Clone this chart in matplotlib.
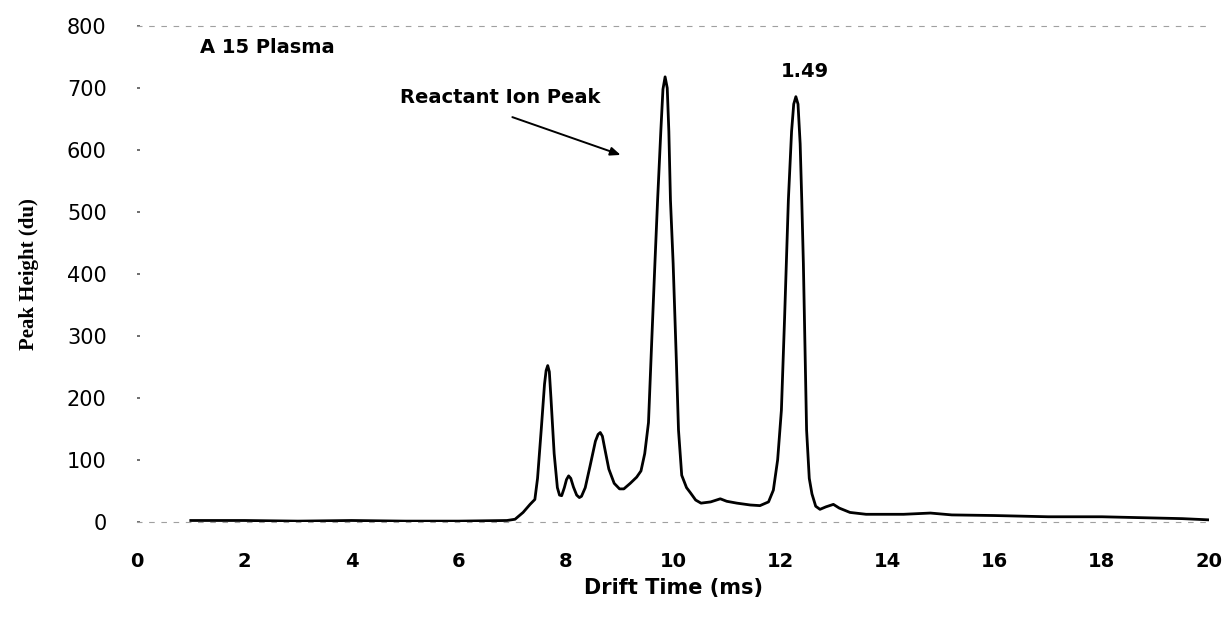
import matplotlib
matplotlib.use("Agg")
import matplotlib.pyplot as plt

# Drift time (ms) and detector response (du) of the A15 plasma spectrum
drift_time = [
    1.0, 2.0, 3.0, 4.0, 5.0, 6.0, 6.9, 7.05, 7.2, 7.33, 7.42, 7.47, 7.54, 7.6,
    7.63, 7.66, 7.69, 7.72, 7.78, 7.84, 7.88, 7.92, 7.97, 8.01, 8.05, 8.09,
    8.14, 8.2, 8.25, 8.29, 8.36, 8.45, 8.55, 8.6, 8.64, 8.68, 8.72, 8.8, 8.9,
    9.0, 9.08, 9.2, 9.32, 9.4, 9.47, 9.54, 9.6, 9.66, 9.71, 9.77, 9.81, 9.85,
    9.89, 9.92, 9.95, 10.0, 10.06, 10.1, 10.16, 10.25, 10.32, 10.42, 10.52,
    10.7, 10.88, 11.0, 11.19, 11.44, 11.62, 11.78, 11.87, 11.95, 12.02, 12.08,
    12.15, 12.21, 12.25, 12.29, 12.33, 12.37, 12.4, 12.43, 12.49, 12.54, 12.59,
    12.66, 12.74, 12.85, 12.99, 13.1, 13.3, 13.6, 13.92, 14.3, 14.8, 15.2,
    16.0, 17.0, 18.0, 18.5, 19.0, 19.5, 20.0,
]
peak_height = [
    2, 2, 1, 2, 1, 1, 2, 4, 15, 28, 36, 70, 150, 222,
    244, 252, 242, 200, 110, 55, 43, 42, 55, 68, 74, 70,
    56, 43, 39, 41, 55, 90, 130, 141, 144, 138, 120, 85, 62,
    53, 53, 62, 72, 82, 110, 160, 290, 417, 519, 630, 698, 718,
    700, 630, 519, 417, 260, 148, 75, 55, 47, 35, 30,
    32, 37, 33, 30, 27, 26, 32, 51, 100, 180, 330,
    519, 630, 674, 686, 674, 610, 519, 417, 148, 70, 45,
    25, 20, 24, 28, 22, 15, 12, 12, 12, 14, 11,
    10, 8, 8, 7, 6, 5, 3,
]

x_ticks = [0, 2, 4, 6, 8, 10, 12, 14, 16, 18, 20]
y_ticks = [0, 100, 200, 300, 400, 500, 600, 700, 800]

sample_label = "A 15 Plasma"
rip_label = "Reactant Ion Peak"
rip_tail = (7.0, 653)
rip_head = (9.02, 592)
peak_label = "1.49"
peak_label_pos = (12.46, 712)

sans = ["DejaVu Sans"]
serif = ["Liberation Serif", "DejaVu Serif"]

fig = plt.figure(figsize=(12.25, 6.2), dpi=100)
ax = fig.add_axes([0.112, 0.1585, 0.875, 0.7995])

ax.plot(drift_time, peak_height, color="black", lw=2.0, solid_joinstyle="round")

ax.set_xlim(0, 20)
ax.set_ylim(0, 800)
ax.set_xticks(x_ticks)
ax.set_yticks(y_ticks)
ax.set_xticklabels([str(v) for v in x_ticks], fontfamily=sans, fontsize=14,
                   fontweight="bold")
ax.set_yticklabels([str(v) for v in y_ticks], fontfamily=sans, fontsize=15)
ax.tick_params(axis="x", length=0, pad=22)
ax.tick_params(axis="y", direction="in", length=2, width=1.2, color="#555555",
               pad=22)

for side in ("left", "right"):
    ax.spines[side].set_visible(False)
for side in ("top", "bottom"):
    ax.spines[side].set_color("#a0a0a0")
    ax.spines[side].set_linewidth(0.8)
    ax.spines[side].set_linestyle((0, (4, 7)))

ax.set_xlabel("Drift Time (ms)", fontfamily=sans, fontsize=15, fontweight="bold",
              labelpad=5)
ax.set_ylabel("Peak Height (du)", fontfamily=serif, fontsize=15, fontweight="bold",
              labelpad=20)

ax.text(1.18, 766, sample_label, fontfamily=sans, fontsize=14, fontweight="bold",
        ha="left", va="center")
ax.text(4.9, 685, rip_label, fontfamily=sans, fontsize=14, fontweight="bold",
        ha="left", va="center")
ax.annotate("", xy=rip_head, xytext=rip_tail,
            arrowprops=dict(arrowstyle="-|>,head_length=0.6,head_width=0.25",
                            color="black", lw=1.4, shrinkA=0, shrinkB=0))
ax.text(peak_label_pos[0], peak_label_pos[1], peak_label, fontfamily=sans,
        fontsize=14, fontweight="bold", ha="center", va="bottom")

fig.savefig("out.png", dpi=100, facecolor="white")
